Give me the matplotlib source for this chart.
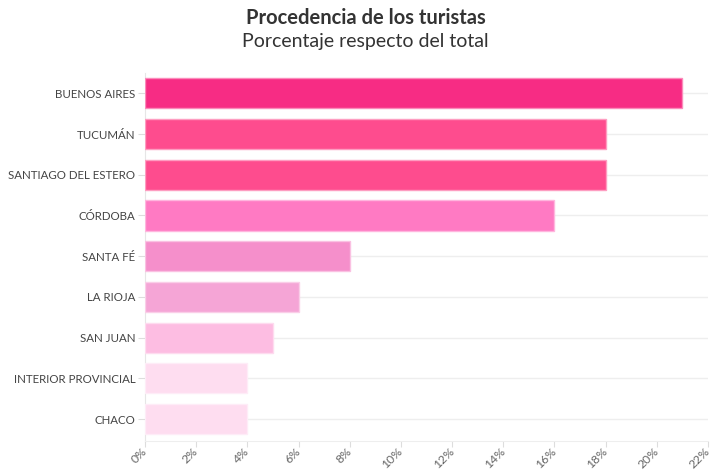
import matplotlib.pyplot as plt
from matplotlib.ticker import FuncFormatter
from matplotlib.colors import to_rgb

# data
provincias = ["BUENOS AIRES", "TUCUMÁN", "SANTIAGO DEL ESTERO", "CÓRDOBA",
              "SANTA FÉ", "LA RIOJA", "SAN JUAN", "INTERIOR PROVINCIAL", "CHACO"]
porcentajes = [21, 18, 18, 16, 8, 6, 5, 4, 4]
colores = ["#F72C84", "#FE4C8E", "#FE4C8E", "#FF7AC3", "#F58FCB",
           "#F5A5D6", "#FDBDE2", "#FEDDF0", "#FEDDF0"]
x_ticks = list(range(0, 23, 2))

plt.rcParams['font.family'] = ['Lato', 'DejaVu Sans']


def lighten(c, f=0.45):
    # mix colour with white for the bar outline
    r, g, b = to_rgb(c)
    return (r + (1 - r) * f, g + (1 - g) * f, b + (1 - b) * f)


fig = plt.figure(figsize=(7.24, 4.72), dpi=100)
ax = fig.add_axes([145 / 724, 1 - 441 / 472, 563 / 724, 368 / 472])

pos = list(range(len(provincias)))
ax.barh(pos, porcentajes, height=0.74, color=colores,
        edgecolor=[lighten(c) for c in colores], linewidth=1, zorder=3)

ax.set_ylim(len(provincias) - 0.46, -0.5)
ax.set_xlim(0, 22)
ax.set_yticks(pos)
ax.set_yticklabels(provincias, fontsize=8.3, color="#444444")
ax.set_xticks(x_ticks)
ax.xaxis.set_major_formatter(FuncFormatter(lambda v, p: f"{v:.0f}%"))
for lab in ax.get_xticklabels():
    lab.set_rotation(45)
    lab.set_ha("right")
    lab.set_va("center")
    lab.set_rotation_mode("anchor")
ax.tick_params(axis="x", labelsize=8.8, colors="#666666", length=4, color="#dddddd", pad=2.5)
ax.tick_params(axis="y", length=5, color="#dddddd", pad=2)

# horizontal gridlines at each category
ax.grid(axis="y", color="#eeeeee", linewidth=1, zorder=0)
ax.grid(axis="x", visible=False)

for s in ["top", "right"]:
    ax.spines[s].set_visible(False)
ax.spines["left"].set_color("#e6e6e6")
ax.spines["bottom"].set_color("#eeeeee")

fig.text(0.505, 1 - 18 / 472, "Procedencia de los turistas", ha="center", va="center",
         fontsize=14.5, fontweight="bold", color="#333333")
fig.text(0.505, 1 - 42 / 472, "Porcentaje respecto del total", ha="center", va="center",
         fontsize=14, color="#333333")

fig.savefig("out.png", dpi=100)
